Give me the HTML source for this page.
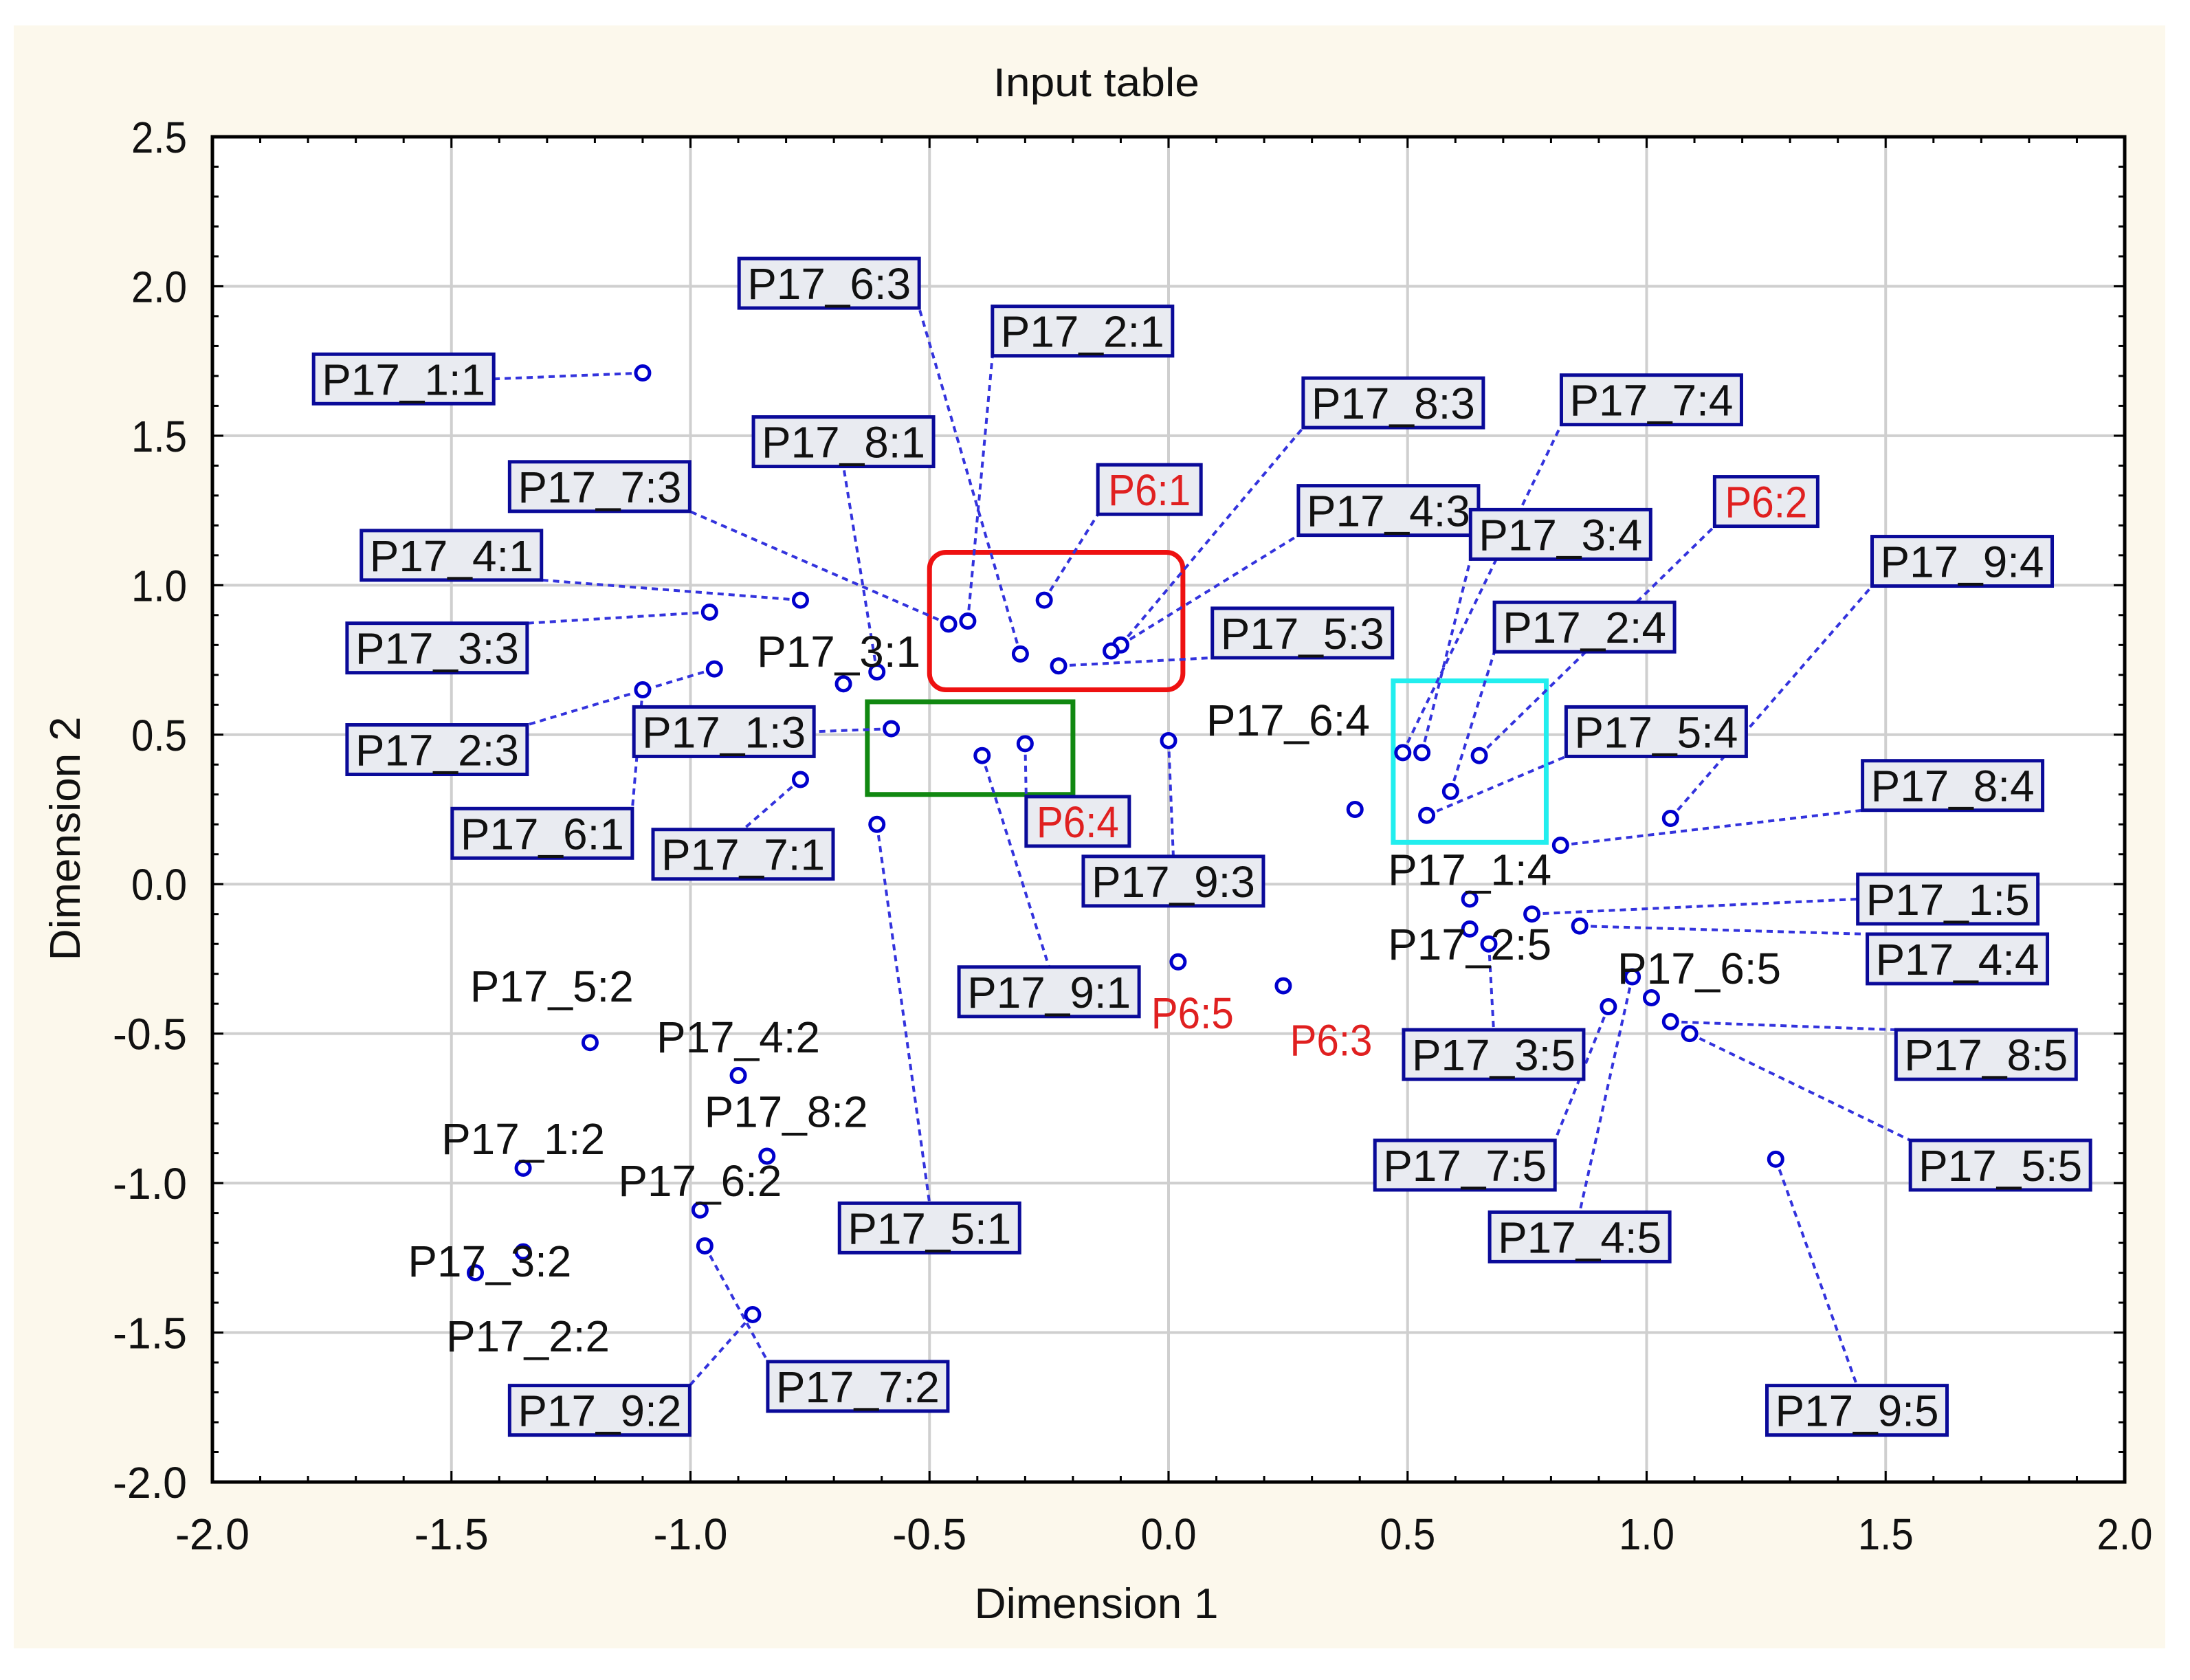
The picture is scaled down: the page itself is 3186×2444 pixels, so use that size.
<!DOCTYPE html>
<html><head><meta charset="utf-8"><style>
html,body{margin:0;padding:0;background:#fff;}
svg{display:block;}
text{font-family:"Liberation Sans Narrow","Liberation Sans",sans-serif;}
</style></head><body>
<svg id="chart" width="3186" height="2444" viewBox="0 0 3186 2444" xmlns="http://www.w3.org/2000/svg">
<rect x="20" y="37" width="3130" height="2361" fill="#fcf8ec"/>
<text x="1595" y="140" font-size="58" text-anchor="middle" fill="#111" textLength="300" lengthAdjust="spacingAndGlyphs">Input table</text>
<rect x="309" y="199" width="2782" height="1957" fill="#fff"/>
<g id="grid"></g>
<g id="ticks"></g>
<g id="groups"></g>
<g id="lines"></g>
<g id="points"></g>
<g id="labels"></g>
<rect x="309" y="199" width="2782" height="1957" fill="none" stroke="#000" stroke-width="5"/>
<text x="1595" y="2354" font-size="62" text-anchor="middle" fill="#111" textLength="355" lengthAdjust="spacingAndGlyphs">Dimension 1</text>
<text x="0" y="0" font-size="62" text-anchor="middle" fill="#111" textLength="355" lengthAdjust="spacingAndGlyphs" transform="translate(116,1220) rotate(-90)">Dimension 2</text>
</svg>
<script>
const names = ["P17_1:1","P17_6:3","P17_2:1","P17_8:1","P17_7:3","P17_4:1","P17_3:3","P17_2:3","P17_6:1","P17_1:3","P17_7:1","P17_3:1","P6:1","P17_8:3","P17_4:3","P17_5:3","P6:4","P17_9:1","P17_5:1","P17_6:4","P17_9:3","P6:5","P6:3","P17_7:4","P17_3:4","P6:2","P17_2:4","P17_5:4","P17_9:4","P17_8:4","P17_1:4","P17_1:5","P17_4:4","P17_2:5","P17_3:5","P17_6:5","P17_7:5","P17_4:5","P17_8:5","P17_5:5","P17_9:5","P17_5:2","P17_4:2","P17_8:2","P17_1:2","P17_6:2","P17_3:2","P17_2:2","P17_9:2","P17_7:2"];
const dim1 = [-1.10,-0.31,-0.42,-0.61,-0.46,-0.77,-0.96,-0.95,-1.10,-0.58,-0.77,-0.68,-0.26,-0.10,-0.12,-0.23,-0.30,-0.39,-0.61,0.39,0.00,0.02,0.24,0.49,0.53,0.65,0.59,0.54,1.05,0.82,0.63,0.76,0.86,0.63,0.67,1.01,0.92,0.97,1.05,1.09,1.27,-1.21,-0.90,-0.84,-1.35,-0.98,-1.45,-1.35,-0.87,-0.97];
const dim2 = [1.71,0.77,0.88,0.71,0.87,0.95,0.91,0.72,0.65,0.52,0.35,0.67,0.95,0.80,0.78,0.73,0.47,0.43,0.20,0.25,0.48,-0.26,-0.34,0.44,0.44,0.43,0.31,0.23,0.22,0.13,-0.05,-0.10,-0.14,-0.15,-0.20,-0.38,-0.41,-0.31,-0.46,-0.50,-0.92,-0.53,-0.64,-0.91,-0.95,-1.09,-1.30,-1.23,-1.44,-1.21];
const labelX = [-1.60,-0.71,-0.18,-0.68,-1.19,-1.50,-1.53,-1.53,-1.31,-0.93,-0.89,-0.69,-0.04,0.47,0.46,0.28,-0.19,-0.25,-0.50,0.25,0.01,0.05,0.34,1.01,0.82,1.25,0.87,1.02,1.66,1.64,0.63,1.63,1.65,0.63,0.68,1.11,0.62,0.86,1.71,1.74,1.44,-1.29,-0.90,-0.80,-1.35,-0.98,-1.42,-1.34,-1.19,-0.65];
const labelY = [1.69,2.01,1.85,1.48,1.33,1.10,0.79,0.45,0.17,0.51,0.10,0.78,1.32,1.61,1.25,0.84,0.21,-0.36,-1.15,0.55,0.01,-0.43,-0.52,1.62,1.17,1.28,0.86,0.51,1.08,0.33,0.05,-0.05,-0.25,-0.20,-0.57,-0.28,-0.94,-1.18,-0.57,-0.94,-1.76,-0.34,-0.51,-0.76,-0.85,-0.99,-1.26,-1.51,-1.76,-1.68];
// b = boxed, p = plain, rb = red boxed, rp = red plain
const labelKind = ["b","b","b","b","b","b","b","b","b","b","b","p","rb","b","b","b","rb","b","b","p","b","rp","rp","b","b","rb","b","b","b","b","p","b","b","p","b","p","b","b","b","b","b","p","p","p","p","p","p","p","b","b"];
const xTicks = [-2.0,-1.5,-1.0,-0.5,0.0,0.5,1.0,1.5,2.0];
const yTicks = [2.5,2.0,1.5,1.0,0.5,0.0,-0.5,-1.0,-1.5,-2.0];
const xTickLabels = ["-2.0","-1.5","-1.0","-0.5","0.0","0.5","1.0","1.5","2.0"];
const yTickLabels = ["2.5","2.0","1.5","1.0","0.5","0.0","-0.5","-1.0","-1.5","-2.0"];
const groupNames = ["red-group-box","green-group-box","cyan-group-box"];
const groupX0 = [-0.50,-0.63,0.47];
const groupX1 = [0.03,-0.20,0.79];
const groupY0 = [1.11,0.61,0.68];
const groupY1 = [0.65,0.30,0.14];
const groupColors = ["#ee1111","#118811","#22eeee"];

const L=309,R=3091,T=199,B=2156;
const sx = v => L + (v+2)/4*(R-L);
const sy = v => T + (2.5-v)/4.5*(B-T);
const NS="http://www.w3.org/2000/svg";
function mk(tag, parent, attrs){const e=document.createElementNS(NS,tag);for(const k in attrs)e.setAttribute(k,attrs[k]);parent.appendChild(e);return e;}
const grid=document.getElementById('grid'), ticks=document.getElementById('ticks');
xTicks.forEach((t,i)=>{
  const x=sx(t);
  if(i>0&&i<xTicks.length-1){const g=mk('line',grid,{x1:x,x2:x,y1:T,y2:B,stroke:'#cfcfcf','stroke-width':4});
  
  }
  const tl=mk('text',ticks,{x:x,y:2254,'font-size':64,'text-anchor':'middle',fill:'#111',textLength:xTickLabels[i].length*27,lengthAdjust:'spacingAndGlyphs'});tl.textContent=xTickLabels[i];
  
  
});
yTicks.forEach((t,i)=>{
  const y=sy(t);
  if(i>0&&i<yTicks.length-1){const g=mk('line',grid,{x1:L,x2:R,y1:y,y2:y,stroke:'#cfcfcf','stroke-width':4});
  
  }
  const tl=mk('text',ticks,{x:272,y:y+23,'font-size':64,'text-anchor':'end',fill:'#111',textLength:yTickLabels[i].length*27,lengthAdjust:'spacingAndGlyphs'});tl.textContent=yTickLabels[i];
  
  
});
for(let v=-2;v<=2.0001;v+=0.1){const x=sx(v);const big=Math.abs(v*2-Math.round(v*2))<1e-6;const len=big?16:9;
  mk('line',ticks,{x1:x,x2:x,y1:T,y2:T+len,stroke:'#000','stroke-width':3});mk('line',ticks,{x1:x,x2:x,y1:B,y2:B-len,stroke:'#000','stroke-width':3});}
for(let v=-2;v<=2.5001;v+=0.1){const y=sy(v);const big=Math.abs(v*2-Math.round(v*2))<1e-6;const len=big?16:9;
  mk('line',ticks,{x1:L,x2:L+len,y1:y,y2:y,stroke:'#000','stroke-width':3});mk('line',ticks,{x1:R,x2:R-len,y1:y,y2:y,stroke:'#000','stroke-width':3});}

const gg=document.getElementById('groups');
groupNames.forEach((n,i)=>{
  const r=mk('rect',gg,{x:sx(groupX0[i]),y:sy(groupY0[i]),width:sx(groupX1[i])-sx(groupX0[i]),height:sy(groupY1[i])-sy(groupY0[i]),fill:'none',stroke:groupColors[i],'stroke-width':7,rx:i===0?24:0});
  
  
});

const lg=document.getElementById('lines'), pg=document.getElementById('points'), lb=document.getElementById('labels');
names.forEach((n,i)=>{
  const px=sx(dim1[i]), py=sy(dim2[i]), lx=sx(labelX[i]), ly=sy(labelY[i]);
  const k=labelKind[i];
  const boxed = k==='b'||k==='rb';
  const red = k==='rb'||k==='rp';
  const w = red ? (n.length*30+30) : 262;
  if(boxed){
    const ax = px<lx-w/2 ? -1 : (px>lx+w/2 ? 1 : 0);
    const ay = py<ly-36 ? -1 : (py>ly+36 ? 1 : 0);
    const ex=lx+ax*w/2, ey=ly+ay*36;
    const ln=mk('line',lg,{x1:px,y1:py,x2:ex,y2:ey,stroke:'#3333dd','stroke-width':4,'stroke-dasharray':'9 7'});
    
    
  }
  const c=mk('circle',pg,{cx:px,cy:py,r:10,fill:'#fff',stroke:'#0000cc','stroke-width':5});
  
  
  const g=mk('g',lb,{});
  
  
  if(boxed){
    mk('rect',g,{x:lx-w/2,y:ly-36,width:w,height:72,fill:'#e9ebf1',stroke:'#0a0a99','stroke-width':5});
  }
  const tw = red ? n.length*30 : 238;
  const t=mk('text',g,{x:lx,y:ly+23,'font-size':64,'text-anchor':'middle',fill:red?'#e02020':'#111',textLength:tw,lengthAdjust:'spacingAndGlyphs'});
  t.textContent=n;
});
</script>
</body></html>
